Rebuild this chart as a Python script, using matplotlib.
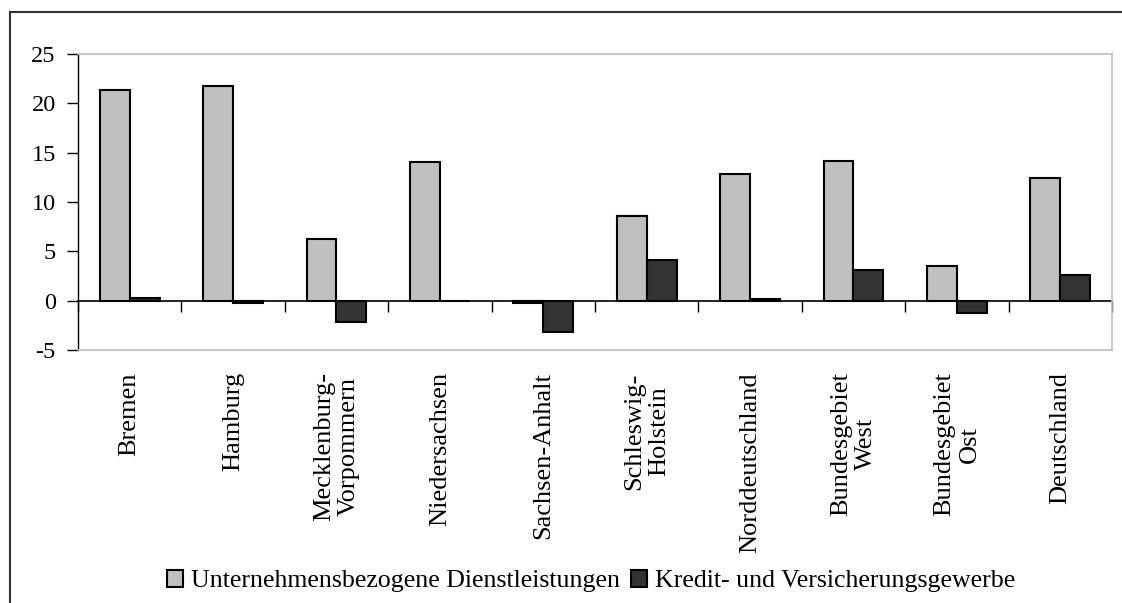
import matplotlib
matplotlib.use("Agg")
from matplotlib import pyplot as plt
from matplotlib.patches import Rectangle
import numpy as np

# Werte
regionen = ["Bremen", "Hamburg", "Mecklenburg-\nVorpommern", "Niedersachsen",
            "Sachsen-Anhalt", "Schleswig-\nHolstein", "Norddeutschland",
            "Bundesgebiet\nWest", "Bundesgebiet\nOst", "Deutschland"]
dienstleistungen = [21.4, 21.8, 6.2, 14.1, -0.2, 8.6, 12.8, 14.2, 3.5, 12.4]
kredit = [0.3, -0.2, -2.2, 0.0, -3.2, 4.1, 0.2, 3.1, -1.2, 2.6]
serie_namen = ["Unternehmensbezogene Dienstleistungen",
               "Kredit- und Versicherungsgewerbe"]
y_ticks = [-5, 0, 5, 10, 15, 20, 25]

plt.rcParams['font.family'] = ['Liberation Serif', 'DejaVu Serif']
plt.rcParams['axes.unicode_minus'] = False
plt.rcParams['font.size'] = 19

fig = plt.figure(figsize=(11.22, 6.03), dpi=100)
ax = fig.add_axes([78/1122, 1 - 350/603, (1112 - 78)/1122, (350 - 54)/603])

x = np.arange(len(regionen))
w = 0.29
ax.bar(x - w/2, dienstleistungen, w, color='#c0c0c0', edgecolor='black',
       linewidth=1.5, label=serie_namen[0], zorder=3)
ax.bar(x + w/2, kredit, w, color='#333333', edgecolor='black',
       linewidth=1.5, label=serie_namen[1], zorder=3)

ax.set_xlim(-0.5, len(regionen) - 0.5)
ax.set_ylim(-5, 25)
ax.set_yticks(y_ticks)
ax.set_yticklabels([str(v) for v in y_ticks], fontsize=17.5)
ax.tick_params(axis='y', direction='out', length=8, width=1, pad=8)

ax.set_xticks(x)
ax.set_xticklabels(regionen, rotation=90, multialignment='center')
ax.tick_params(axis='x', length=0, pad=16)

for s in ['top', 'right', 'bottom']:
    ax.spines[s].set_color('#c0c0c0')
    ax.spines[s].set_linewidth(1.2)
ax.spines['left'].set_color('black')
ax.spines['left'].set_linewidth(1)

# Nulllinie mit Kategorie-Trennstrichen
null_ax = ax.secondary_xaxis(5/30)
null_ax.set_xticks(np.arange(-0.5, len(regionen), 1.0))
null_ax.set_xticklabels([])
null_ax.tick_params(direction='out', length=8, width=1)
null_ax.spines['bottom'].set_color('black')
null_ax.spines['bottom'].set_linewidth(1.2)

fig.legend(loc='center', bbox_to_anchor=(0.527, 1 - 581/603), ncol=2,
           frameon=False, handlelength=0.62, handleheight=0.62,
           handletextpad=0.3, columnspacing=0.45, borderaxespad=0,
           fontsize=18.6)

fig.patches.append(Rectangle((10/1122, -0.1), 1.2, 1.1 - 12/603,
                             transform=fig.transFigure, fill=False,
                             edgecolor='#333333', linewidth=1.5))

fig.savefig("out.png", dpi=100)
